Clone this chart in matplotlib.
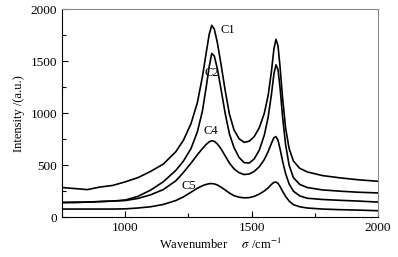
import numpy as np
import matplotlib.pyplot as plt
from matplotlib.ticker import MultipleLocator

plt.rcParams['font.family'] = ['Liberation Serif', 'DejaVu Serif']
plt.rcParams['mathtext.fontset'] = 'stix'

# wavenumber grid (cm^-1)
wn = [750, 800, 850, 900, 950, 1000, 1050, 1100, 1150, 1200,
      1230, 1260, 1285, 1305, 1320, 1332, 1342, 1352, 1364, 1378,
      1395, 1412, 1430, 1450, 1470, 1490, 1510, 1530, 1550, 1565,
      1578, 1588, 1596, 1604, 1612, 1622, 1634, 1648, 1665, 1690,
      1720, 1780, 1850, 1920, 2000]

c1 = [285, 275, 265, 290, 305, 340, 380, 440, 510, 630,
      740, 900, 1100, 1350, 1580, 1760, 1845, 1810, 1680, 1480,
      1220, 990, 840, 755, 720, 730, 775, 860, 1000, 1170,
      1400, 1620, 1710, 1650, 1450, 1150, 860, 660, 540, 470,
      435, 400, 378, 360, 345]
c2 = [142, 145, 145, 150, 155, 165, 200, 260, 340, 450,
      540, 660, 820, 1020, 1250, 1450, 1575, 1550, 1430, 1240,
      1000, 800, 670, 575, 525, 520, 560, 645, 790, 960,
      1180, 1380, 1465, 1420, 1250, 970, 700, 500, 380, 315,
      285, 262, 250, 240, 233]
c4 = [140, 140, 145, 150, 155, 160, 180, 215, 265, 350,
      430, 520, 600, 660, 700, 725, 735, 730, 705, 660,
      590, 520, 465, 428, 410, 415, 440, 485, 555, 630,
      710, 765, 775, 740, 660, 540, 420, 320, 250, 205,
      182, 170, 162, 155, 145]
c5 = [78, 78, 78, 78, 78, 80, 88, 100, 122, 160,
      195, 240, 278, 302, 315, 322, 323, 320, 310, 290,
      262, 232, 207, 192, 186, 188, 200, 222, 252, 282,
      315, 335, 338, 325, 295, 250, 200, 155, 120, 100,
      88, 78, 72, 68, 62]

series = [c1, c2, c4, c5]
labels = ['C1', 'C2', 'C4', 'C5']
label_pos = [(1405, 1800), (1343, 1390), (1337, 830), (1250, 300)]

fig = plt.figure(figsize=(3.98, 2.57), dpi=100)
ax = fig.add_axes([0.156, 0.155, 0.794, 0.809])

for s in series:
    ax.plot(wn, s, color='black', lw=1.2)
for lab, (x, y) in zip(labels, label_pos):
    ax.text(x, y, lab, fontsize=9, ha='center', va='center')

ax.set_xlim(750, 2000)
ax.set_ylim(0, 2000)
ax.xaxis.set_major_locator(MultipleLocator(500))
ax.xaxis.set_minor_locator(MultipleLocator(250))
ax.yaxis.set_major_locator(MultipleLocator(500))
ax.yaxis.set_minor_locator(MultipleLocator(250))
ax.tick_params(which='both', direction='in', labelsize=9.5, width=0.8,
               top=False, right=False)
ax.tick_params(which='major', length=4)
ax.tick_params(which='minor', length=3)
for side in ['top', 'right']:
    ax.spines[side].set_color('#888888')
for sp in ax.spines.values():
    sp.set_linewidth(0.8)

ax.set_xlabel(r'Wavenumber     $\sigma$ /cm$^{-1}$', fontsize=9, labelpad=2)
ax.set_ylabel('Intensity /(a.u.)', fontsize=9, labelpad=4)

fig.savefig('out.png', dpi=100)
